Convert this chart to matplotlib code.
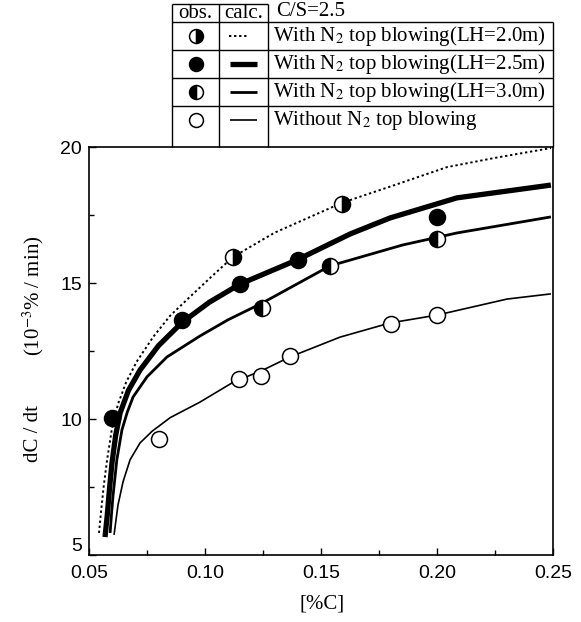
import matplotlib
matplotlib.use('Agg')
import matplotlib.pyplot as plt
from matplotlib.ticker import MultipleLocator, FormatStrFormatter

# ---------------- data ----------------
# observed points
obs_lh20_x = [0.112, 0.159]
obs_lh20_y = [15.96, 17.90]
obs_lh25_x = [0.060, 0.090, 0.115, 0.140, 0.200]
obs_lh25_y = [10.04, 13.64, 14.96, 15.85, 17.43]
obs_lh30_x = [0.1246, 0.154, 0.200]
obs_lh30_y = [14.08, 15.63, 16.62]
obs_none_x = [0.080, 0.1147, 0.1241, 0.1366, 0.180, 0.200]
obs_none_y = [9.26, 11.47, 11.58, 12.32, 13.49, 13.82]

# calculated curves
calc_lh20_x = [0.0543, 0.0552, 0.0563, 0.0578, 0.0598, 0.0625, 0.0660, 0.0705, 0.0776, 0.0850,
               0.0935, 0.1030, 0.1121, 0.1300, 0.1591, 0.1800, 0.2043, 0.2250, 0.2491]
calc_lh20_y = [5.81, 6.60, 7.50, 8.50, 9.60, 10.55, 11.35, 12.10, 13.01, 13.80,
               14.49, 15.25, 15.96, 16.85, 17.95, 18.55, 19.26, 19.60, 19.96]
calc_lh25_x = [0.0569, 0.0578, 0.0588, 0.0599, 0.0615, 0.0634, 0.0670, 0.0720, 0.0800, 0.0901,
               0.1020, 0.1151, 0.1397, 0.1625, 0.1797, 0.2086, 0.2491]
calc_lh25_y = [5.66, 6.40, 7.40, 8.38, 9.40, 10.22, 11.05, 11.80, 12.70, 13.55,
               14.30, 14.96, 15.85, 16.80, 17.39, 18.13, 18.60]
calc_lh30_x = [0.0591, 0.0597, 0.0603, 0.0620, 0.0642, 0.0665, 0.0690, 0.0750, 0.0836, 0.0978,
               0.1100, 0.1246, 0.1539, 0.1853, 0.2086, 0.2491]
calc_lh30_y = [5.81, 6.50, 7.13, 8.50, 9.60, 10.25, 10.81, 11.55, 12.28, 13.05,
               13.65, 14.26, 15.63, 16.40, 16.84, 17.43]
calc_none_x = [0.0608, 0.0615, 0.0625, 0.0647, 0.0677, 0.0720, 0.0772, 0.0850, 0.0978, 0.1121,
               0.1250, 0.1366, 0.1582, 0.1797, 0.2000, 0.2302, 0.2491]
calc_none_y = [5.74, 6.20, 6.84, 7.70, 8.50, 9.12, 9.55, 10.05, 10.62, 11.35,
               11.80, 12.28, 13.01, 13.53, 13.82, 14.41, 14.60]

x_ticks = [0.05, 0.10, 0.15, 0.20, 0.25]
y_ticks = [5, 10, 15, 20]
x_label = "[%C]"
y_label_a = "dC / dt"
y_label_b = r"(10$^{-3}$% / min)"
header = ["obs.", "calc.", "C/S=2.5"]
legend_labels = [r"With N$_2$ top blowing(LH=2.0m)",
                 r"With N$_2$ top blowing(LH=2.5m)",
                 r"With N$_2$ top blowing(LH=3.0m)",
                 r"Without N$_2$ top blowing"]

# ---------------- styling ----------------
plt.rcParams['mathtext.fontset'] = 'stix'
SERIF = 'Liberation Serif'
SANS = 'Liberation Sans'
FS = 15

W, H = 581, 622
fig = plt.figure(figsize=(W / 100, H / 100), dpi=100)
ax = fig.add_axes([89 / W, 1 - 555 / H, (553 - 89) / W, (555 - 147) / H])

ms = 11.5
mew = 1.1

# curves
ax.plot(calc_lh20_x, calc_lh20_y, color='black', lw=1.4, ls=(0, (1.2, 1.4)), zorder=2)
ax.plot(calc_lh25_x, calc_lh25_y, color='black', lw=3.8, zorder=2, solid_capstyle='butt',
        solid_joinstyle='round')
ax.plot(calc_lh30_x, calc_lh30_y, color='black', lw=2.0, zorder=2, solid_capstyle='butt',
        solid_joinstyle='round')
ax.plot(calc_none_x, calc_none_y, color='black', lw=1.2, zorder=2, solid_capstyle='butt',
        solid_joinstyle='round')

# markers
ax.plot(obs_lh20_x, obs_lh20_y, ls='none', marker='o', ms=ms, mec='black', mew=mew,
        fillstyle='right', mfc='black', mfcalt='white', zorder=3)
ax.plot(obs_lh25_x, obs_lh25_y, ls='none', marker='o', ms=ms, mec='black', mew=mew,
        mfc='black', zorder=3)
ax.plot(obs_lh30_x, obs_lh30_y, ls='none', marker='o', ms=ms, mec='black', mew=mew,
        fillstyle='left', mfc='black', mfcalt='white', zorder=3)
ax.plot(obs_none_x, obs_none_y, ls='none', marker='o', ms=ms, mec='black', mew=mew,
        mfc='white', zorder=3)

ax.set_xlim(0.05, 0.25)
ax.set_ylim(5, 20)
ax.set_xticks(x_ticks)
ax.set_yticks(y_ticks)
ax.xaxis.set_major_formatter(FormatStrFormatter('%.2f'))
ax.xaxis.set_minor_locator(MultipleLocator(0.025))
ax.yaxis.set_minor_locator(MultipleLocator(2.5))
ax.tick_params(which='both', direction='in', top=False, right=False, width=1.0,
               labelsize=14, color='black')
ax.tick_params(which='major', length=5)
ax.tick_params(which='minor', length=3.5)
ax.tick_params(axis='x', pad=7)
ax.tick_params(axis='y', pad=5)
for lab in ax.get_xticklabels() + ax.get_yticklabels():
    lab.set_fontfamily(SANS)
# bottom y label sits slightly above the corner, as in the reference
ax.yaxis.get_major_ticks()[0].label1.set_va('bottom')
for sp in ax.spines.values():
    sp.set_linewidth(1.2)

fig.text(322 / W, 1 - 604 / H, x_label, family=SERIF, fontsize=FS, ha='center', va='center')
fig.text(33 / W, 1 - 434 / H, y_label_a, family=SERIF, fontsize=FS, ha='center', va='center',
         rotation=90)
fig.text(33 / W, 1 - 296 / H, y_label_b, family=SERIF, fontsize=FS, ha='center', va='center',
         rotation=90)

# ---------------- legend table (overlay in pixel coords) ----------------
ov = fig.add_axes([0, 0, 1, 1], zorder=5)
ov.set_xlim(0, W)
ov.set_ylim(H, 0)
ov.axis('off')
ov.patch.set_alpha(0)

c0, c1, c2, c3 = 172, 219, 268, 553
rows = [22, 50, 78, 106]
top, bottom = 4, 147
lk = dict(color='black', lw=1.0, solid_capstyle='butt')
ov.plot([c0, c2], [top, top], **lk)
for r in rows:
    ov.plot([c0, c3], [r, r], **lk)
ov.plot([c0, c0], [top, bottom], **lk)
ov.plot([c1, c1], [top, bottom], **lk)
ov.plot([c2, c2], [top, bottom], **lk)
ov.plot([c3, c3], [rows[0], bottom], **lk)

ov.text((c0 + c1) / 2, 13, header[0], family=SERIF, fontsize=FS, ha='center', va='center')
ov.text((c1 + c2) / 2, 13, header[1], family=SERIF, fontsize=FS, ha='center', va='center')
ov.text(276, 12, header[2], family=SERIF, fontsize=FS, ha='left', va='center')

row_c = [36, 64, 92, 120]
lms = 10
mx = (c0 + c1) / 2
ov.plot([mx], [row_c[0]], marker='o', ms=lms, mec='black', mew=mew,
        fillstyle='right', mfc='black', mfcalt='white')
ov.plot([mx], [row_c[1]], marker='o', ms=lms, mec='black', mew=mew, mfc='black')
ov.plot([mx], [row_c[2]], marker='o', ms=lms, mec='black', mew=mew,
        fillstyle='left', mfc='black', mfcalt='white')
ov.plot([mx], [row_c[3]], marker='o', ms=lms, mec='black', mew=mew, mfc='white')

ov.plot([229, 249], [row_c[0], row_c[0]], color='black', lw=1.4, ls=(0, (1.2, 1.4)))
ov.plot([230, 257], [row_c[1], row_c[1]], color='black', lw=3.8, solid_capstyle='butt')
ov.plot([230, 257], [row_c[2], row_c[2]], color='black', lw=2.0, solid_capstyle='butt')
ov.plot([230, 257], [row_c[3], row_c[3]], color='black', lw=1.2, solid_capstyle='butt')

for r, lab in zip(row_c, legend_labels):
    ov.text(273, r, lab, family=SERIF, fontsize=FS, ha='left', va='center')

fig.savefig('out.png', dpi=100)
